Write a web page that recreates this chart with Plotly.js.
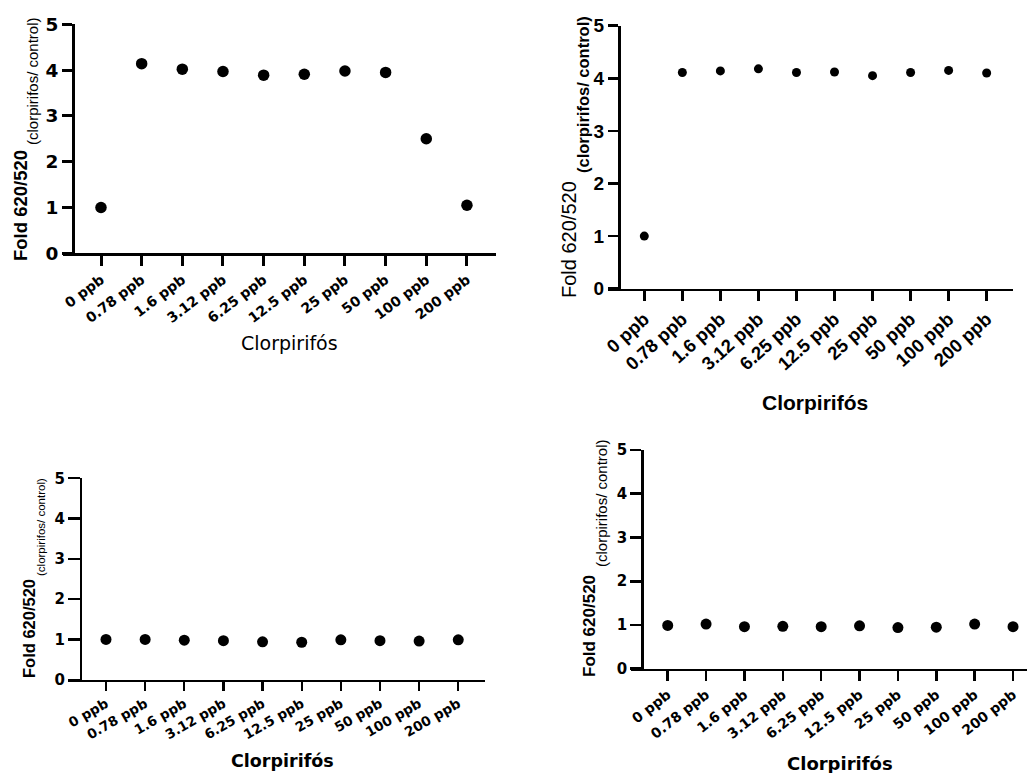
<!DOCTYPE html>
<html>
<head>
<meta charset="utf-8">
<script src="https://cdn.plot.ly/plotly-3.0.1.min.js"></script>
<style>
  html, body { margin: 0; padding: 0; background: #ffffff; }
  #chart { width: 1029px; height: 773px; }
</style>
</head>
<body>
<div id="chart"></div>
<script>
// Clorpirifós doses (x categories)
const doses = ['0 ppb', '0.78 ppb', '1.6 ppb', '3.12 ppb', '6.25 ppb',
               '12.5 ppb', '25 ppb', '50 ppb', '100 ppb', '200 ppb'];

// Fold change 620/520 relative to control, one array per panel
const foldA = [1.00, 4.14, 4.02, 3.97, 3.89, 3.91, 3.98, 3.95, 2.50, 1.05];
const foldB = [1.00, 4.11, 4.14, 4.18, 4.11, 4.12, 4.05, 4.11, 4.15, 4.10];
const foldC = [1.00, 1.00, 0.98, 0.97, 0.94, 0.93, 0.99, 0.97, 0.96, 0.99];
const foldD = [0.99, 1.02, 0.96, 0.97, 0.96, 0.98, 0.94, 0.95, 1.02, 0.96];

const yTicks = [0, 1, 2, 3, 4, 5];
const yTitleMain = 'Fold 620/520';
const yTitleSub = '(clorpirifos/ control)';
const xTitle = 'Clorpirifós';

const W = 1029, H = 773;
const fx = px => px / W;
const fy = py => 1 - py / H;

const ARIAL = 'Liberation Sans';
const DEJAVU = 'DejaVu Sans';

// Geometry (pixels) and text styling of the four panels
const panels = [
  { y: foldA, axisX: 73, lineL: 63, lineR: 496, y0: 253.3, y5: 24.3, cat0: 101, step: 40.66,
    lw: 3, ylen: 10, xlen: 10, msize: 11.5, angle: -37,
    xFam: DEJAVU, xSize: 14, yFam: DEJAVU, ySize: 18.5,
    main: { x: 20, y: 206, size: 18.5, bold: true, family: ARIAL },
    sub: { x: 33, y: 81, size: 15, bold: false, family: ARIAL },
    xt: { x: 289, y: 343, size: 19, bold: false, family: DEJAVU } },
  { y: foldB, axisX: 619, lineL: 608, lineR: 1013, y0: 288.7, y5: 25.7, cat0: 644.3, step: 38.04,
    lw: 2.5, ylen: 10, xlen: 10, msize: 9, angle: -42,
    xFam: ARIAL, xSize: 18.5, yFam: ARIAL, ySize: 19,
    main: { x: 569, y: 240, size: 20, bold: false, family: ARIAL },
    sub: { x: 583, y: 95, size: 16.5, bold: true, family: ARIAL },
    xt: { x: 815, y: 402, size: 21, bold: true, family: ARIAL } },
  { y: foldC, axisX: 81, lineL: 68, lineR: 485, y0: 679.7, y5: 478.3, cat0: 106, step: 39.14,
    lw: 2.3, ylen: 12, xlen: 9, msize: 11, angle: -30,
    xFam: DEJAVU, xSize: 13.5, yFam: DEJAVU, ySize: 15,
    main: { x: 29, y: 629, size: 16.5, bold: true, family: ARIAL },
    sub: { x: 41, y: 527, size: 11.5, bold: false, family: ARIAL },
    xt: { x: 282, y: 761, size: 17.5, bold: true, family: DEJAVU } },
  { y: foldD, axisX: 642.3, lineL: 631, lineR: 1027, y0: 668.7, y5: 450, cat0: 667.7, step: 38.37,
    lw: 2.6, ylen: 11, xlen: 10, msize: 11, angle: -38,
    xFam: DEJAVU, xSize: 14, yFam: DEJAVU, ySize: 15,
    main: { x: 589, y: 626, size: 17, bold: true, family: ARIAL },
    sub: { x: 601, y: 503, size: 15, bold: false, family: ARIAL },
    xt: { x: 840, y: 763, size: 18, bold: true, family: DEJAVU } }
];

const bold = s => '<b>' + s + '</b>';

const data = [];
const layout = {
  width: W, height: H,
  margin: { l: 0, r: 0, t: 0, b: 0 },
  paper_bgcolor: '#ffffff', plot_bgcolor: '#ffffff',
  showlegend: false,
  annotations: []
};

function textAnn(txt, s, angle) {
  return {
    text: s.bold ? bold(txt) : txt,
    xref: 'paper', yref: 'paper', x: fx(s.x), y: fy(s.y),
    xanchor: 'center', yanchor: 'middle', showarrow: false, textangle: angle,
    font: { family: s.family, size: s.size, color: '#000000' }
  };
}

panels.forEach((p, i) => {
  const s = i === 0 ? '' : String(i + 1);

  data.push({
    type: 'scatter', mode: 'markers', x: doses, y: p.y,
    xaxis: 'x' + s, yaxis: 'y' + s, cliponaxis: false,
    marker: { color: '#000000', size: p.msize },
    hoverinfo: 'x+y'
  });

  layout['xaxis' + s] = {
    type: 'category', domain: [fx(p.lineL), fx(p.lineR)], anchor: 'y' + s,
    tickvals: doses, ticktext: doses.map(bold),
    range: [(p.lineL - p.cat0) / p.step, (p.lineR - p.cat0) / p.step],
    showline: true, linecolor: '#000000', linewidth: p.lw,
    ticks: 'outside', ticklen: p.xlen, tickwidth: p.lw, tickcolor: '#000000',
    showgrid: false, zeroline: false, tickangle: p.angle,
    tickfont: { family: p.xFam, size: p.xSize, color: '#000000' }
  };

  layout['yaxis' + s] = {
    domain: [fy(p.y0), fy(p.y5)], anchor: 'free', position: fx(p.axisX),
    range: [0, 5], tickvals: yTicks, ticktext: yTicks.map(String),
    showline: true, linecolor: '#000000', linewidth: p.lw,
    ticks: 'outside', ticklen: p.ylen, tickwidth: p.lw, tickcolor: '#000000',
    showgrid: false, zeroline: false,
    tickfont: { family: p.yFam, size: p.ySize, color: '#000000', weight: 'bold' }
  };

  layout.annotations.push(textAnn(yTitleMain, p.main, -90));
  layout.annotations.push(textAnn(yTitleSub, p.sub, -90));
  layout.annotations.push(textAnn(xTitle, p.xt, 0));
});

Plotly.newPlot('chart', data, layout, { displayModeBar: false, staticPlot: true });
</script>
</body>
</html>
